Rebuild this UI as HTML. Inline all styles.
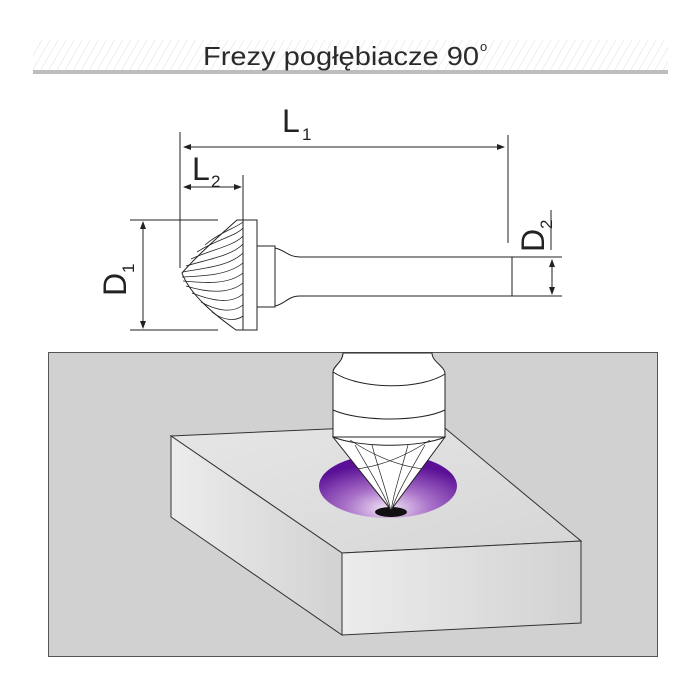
<!DOCTYPE html>
<html><head><meta charset="utf-8"><style>
html,body{margin:0;padding:0;background:#fff;}
svg{display:block;}
text{font-family:"Liberation Sans","DejaVu Sans",sans-serif;}
</style></head><body>
<svg width="700" height="700" viewBox="0 0 700 700" xmlns="http://www.w3.org/2000/svg">
<defs>
<pattern id="hatch" width="7" height="7" patternUnits="userSpaceOnUse" patternTransform="rotate(30)">
<line x1="0" y1="0" x2="0" y2="7" stroke="#e2e2e2" stroke-width="1.2"/>
</pattern>
<radialGradient id="purp" cx="0.5" cy="0.85" r="0.7">
<stop offset="0" stop-color="#f3e6f6"/>
<stop offset="0.45" stop-color="#a870c8"/>
<stop offset="1" stop-color="#5a0f96"/>
</radialGradient>
<linearGradient id="face" x1="0" x2="1" y1="0" y2="0">
<stop offset="0" stop-color="#ececec"/><stop offset="1" stop-color="#d2d2d2"/>
</linearGradient>
<linearGradient id="top" x1="0" x2="1" y1="0" y2="1">
<stop offset="0" stop-color="#e6e6e6"/><stop offset="1" stop-color="#d6d6d6"/>
</linearGradient>
<clipPath id="cone"><path d="M333,437 L445,437 L391,510 Z"/></clipPath>
</defs>
<!-- title bar -->
<rect x="33" y="40" width="635" height="30" fill="url(#hatch)"/>
<rect x="33" y="70" width="635" height="4" fill="#bdbdbd"/>
<text x="203" y="65" font-size="26" fill="#2a2a2a" textLength="276" lengthAdjust="spacingAndGlyphs">Frezy pogłębiacze 90</text>
<text x="480" y="51" font-size="13" fill="#2a2a2a">o</text>

<!-- technical drawing -->
<g stroke="#222" stroke-width="1" fill="none">
<line x1="180" y1="132" x2="180" y2="268"/>
<line x1="508" y1="135" x2="508" y2="243"/>
<line x1="184" y1="147" x2="504" y2="147"/>
<line x1="243" y1="175" x2="243" y2="220"/>
<line x1="184" y1="187" x2="240" y2="187"/>
<line x1="130" y1="220" x2="218" y2="220"/>
<line x1="130" y1="330" x2="218" y2="330"/>
<line x1="143" y1="222" x2="143" y2="328"/>
<line x1="512" y1="257" x2="562" y2="257"/>
<line x1="512" y1="296" x2="562" y2="296"/>
<line x1="552" y1="260" x2="552" y2="294"/>
<line x1="551" y1="210" x2="551" y2="250"/>
<!-- tool -->
<rect x="243" y="220" width="14" height="110" fill="#fff"/>
<path d="M257,246 H275 V307 H257"/>
<path d="M275,248 C285,250 288,257 300,257 H512 V296 H300 C288,296 285,304 275,306"/>
<path d="M237,220 H243 V330 H236 C215,315 190,295 182,273 C195,258 220,235 237,220 Z" fill="#fff"/>
<g stroke-width="0.8">
<path d="M243,222 C236,228 220,232 205,245"/>
<path d="M243,228 C236,236 215,240 197,252"/>
<path d="M243,236 C234,246 210,250 191,259"/>
<path d="M243,244 C232,256 205,260 186,266"/>
<path d="M243,253 C230,266 205,268 183,272"/>
<path d="M243,263 C228,275 205,276 182,277"/>
<path d="M243,273 C228,285 205,283 183,281"/>
<path d="M243,283 C228,295 205,292 186,286"/>
<path d="M243,294 C230,305 210,300 192,293"/>
<path d="M243,305 C232,314 215,310 201,302"/>
<path d="M243,316 C235,322 222,320 212,312"/>
</g>
</g>
<g fill="#222">
<path d="M183,147 l8,-3 v6 z"/><path d="M505,147 l-8,-3 v6 z"/>
<path d="M183,187 l8,-3 v6 z"/><path d="M242,187 l-8,-3 v6 z"/>
<path d="M143,221 l-3,8 h6 z"/><path d="M143,329 l-3,-8 h6 z"/>
<path d="M552,259 l-3,8 h6 z"/><path d="M552,295 l-3,-8 h6 z"/>
</g>
<text x="282" y="132" font-size="32" fill="#222">L</text><text x="302" y="140" font-size="17" fill="#222">1</text>
<text x="192" y="180" font-size="32" fill="#222">L</text><text x="211" y="187" font-size="17" fill="#222">2</text>
<g transform="translate(126,296) rotate(-90)"><text x="0" y="0" font-size="32" fill="#222">D</text><text x="23" y="8" font-size="17" fill="#222">1</text></g>
<g transform="translate(544,252) rotate(-90)"><text x="0" y="0" font-size="32" fill="#222">D</text><text x="23" y="8" font-size="17" fill="#222">2</text></g>

<!-- lower panel -->
<rect x="48.5" y="352.5" width="609" height="304" fill="#d1d1d1" stroke="#555" stroke-width="1"/>
<g stroke="#333" stroke-width="1">
<path d="M171,436 L440,424 L581,541 L342,553 Z" fill="url(#top)"/>
<path d="M171,436 L342,553 L342,635 L171,517 Z" fill="url(#face)"/>
<path d="M342,553 L581,541 L581,623 L342,635 Z" fill="url(#face)"/>
</g>
<ellipse cx="388" cy="486" rx="69" ry="32" fill="url(#purp)"/>
<ellipse cx="391" cy="512" rx="16" ry="5" fill="#111"/>
<g stroke="#222" stroke-width="1" fill="#fff">
<path d="M343,353 C343,362 333,366 333,372 V437 H445 V374 C445,366 432,362 432,353 Z"/>
<path d="M333,437 L445,437 L391,510 Z"/>
<path d="M333,372 C360,390 420,390 445,374" fill="none"/>
<path d="M333,410 C360,422 420,422 445,410" fill="none"/>
<path d="M333,437 C360,448 420,448 445,437" fill="none"/>
</g>
<g clip-path="url(#cone)" stroke="#222" stroke-width="0.7" fill="none">
<path d="M320,440 C345,470 375,495 391,512"/>
<path d="M338,445 C360,475 380,495 391,512"/>
<path d="M355,445 C372,475 385,495 391,512"/>
<path d="M372,445 C380,475 388,495 391,512"/>
<path d="M460,440 C435,470 405,495 391,512"/>
<path d="M442,445 C420,475 400,495 391,512"/>
<path d="M425,445 C408,475 396,495 391,512"/>
<path d="M408,445 C400,475 393,495 391,512"/>
<path d="M335,440 C345,460 355,480 360,500"/>
<path d="M445,440 C435,460 425,480 420,500"/>
<path d="M350,440 C380,460 410,470 440,470"/>
<path d="M430,440 C400,460 370,470 340,470"/>
</g>
</svg>
</body></html>
